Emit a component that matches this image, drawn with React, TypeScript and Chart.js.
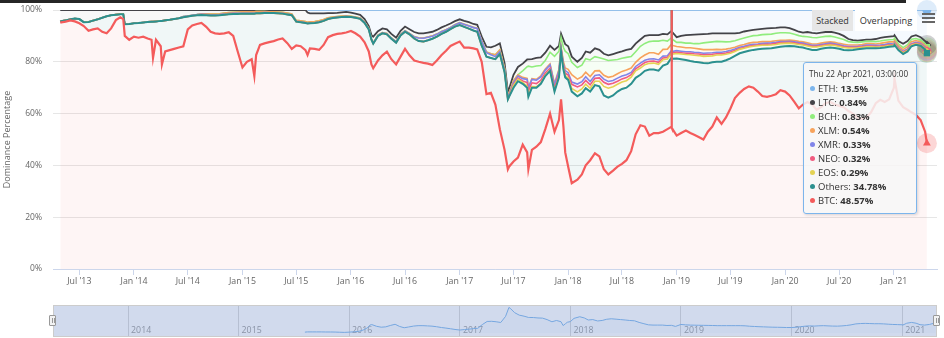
import React, { useEffect, useRef } from "react";
import { Chart, registerables } from "chart.js";

Chart.register(...registerables);

// ---------- DATA ----------
const dates = [
  "2013-04-28","2013-05-01","2013-05-16","2013-06-01","2013-06-16","2013-07-01","2013-07-16","2013-08-01","2013-08-16","2013-09-01","2013-09-16","2013-10-01","2013-10-16","2013-11-01","2013-11-16","2013-11-26","2013-12-01","2013-12-16",
  "2014-01-01","2014-01-16","2014-02-01","2014-02-16","2014-03-01","2014-03-06","2014-03-16","2014-04-01","2014-04-05","2014-04-16","2014-05-01","2014-05-16","2014-06-01","2014-06-16","2014-07-01","2014-07-16","2014-08-01","2014-08-16","2014-09-01","2014-09-16","2014-10-01","2014-10-16","2014-11-01","2014-11-16","2014-12-01","2014-12-16",
  "2015-01-01","2015-01-16","2015-02-01","2015-02-10","2015-02-16","2015-03-01","2015-03-16","2015-04-01","2015-04-16","2015-05-01","2015-05-16","2015-06-01","2015-06-16","2015-07-01","2015-07-16","2015-08-01","2015-08-08","2015-08-16","2015-09-01","2015-09-16","2015-10-01","2015-10-16","2015-11-01","2015-11-16","2015-12-01","2015-12-16",
  "2016-01-01","2016-01-16","2016-02-01","2016-02-16","2016-03-01","2016-03-10","2016-03-16","2016-04-01","2016-04-16","2016-05-01","2016-05-16","2016-06-01","2016-06-16","2016-07-01","2016-07-16","2016-08-01","2016-08-16","2016-09-01","2016-09-16","2016-10-01","2016-10-16","2016-11-01","2016-11-16","2016-12-01","2016-12-16",
  "2017-01-01","2017-01-16","2017-02-01","2017-02-16","2017-03-01","2017-03-16","2017-04-01","2017-04-16","2017-05-01","2017-05-16","2017-06-01","2017-06-12","2017-06-16","2017-07-01","2017-07-16","2017-08-01","2017-08-16","2017-08-20","2017-09-01","2017-09-16","2017-10-01","2017-10-16","2017-11-01","2017-11-16","2017-12-01","2017-12-08","2017-12-16","2017-12-22",
  "2018-01-01","2018-01-13","2018-02-01","2018-02-16","2018-03-01","2018-03-16","2018-04-01","2018-04-16","2018-05-01","2018-05-16","2018-06-01","2018-06-16","2018-07-01","2018-07-16","2018-08-01","2018-08-16","2018-09-01","2018-09-16","2018-10-01","2018-10-16","2018-11-01","2018-11-16","2018-12-01","2018-12-14","2018-12-15","2018-12-16",
  "2019-01-01","2019-01-16","2019-02-01","2019-02-16","2019-03-01","2019-03-16","2019-04-01","2019-04-16","2019-05-01","2019-05-16","2019-06-01","2019-06-16","2019-07-01","2019-07-16","2019-08-01","2019-08-16","2019-09-01","2019-09-16","2019-10-01","2019-10-16","2019-11-01","2019-11-16","2019-12-01","2019-12-16",
  "2020-01-01","2020-01-16","2020-02-01","2020-02-16","2020-03-01","2020-03-16","2020-04-01","2020-04-16","2020-05-01","2020-05-16","2020-06-01","2020-06-16","2020-07-01","2020-07-16","2020-08-01","2020-08-16","2020-09-01","2020-09-16","2020-10-01","2020-10-16","2020-11-01","2020-11-16","2020-12-01","2020-12-16",
  "2021-01-01","2021-01-03","2021-01-16","2021-02-01","2021-02-16","2021-03-01","2021-03-16","2021-04-01","2021-04-16","2021-04-22",
];

const btc = [
  95.1,95.2,95.5,96.0,95.6,94.9,93.8,92.0,92.5,92.9,91.6,91.0,92.9,96.1,97.2,96.5,90.0,88.5,
  89.7,89.3,89.7,89.0,88.5,81.5,88.5,86.0,79.0,84.0,84.5,85.0,85.5,86.0,92.5,94.0,94.6,95.0,93.5,91.6,91.0,90.8,91.0,91.4,90.0,84.0,
  77.8,80.0,81.0,74.5,82.6,86.5,87.1,87.6,88.0,88.6,89.0,87.2,85.0,86.3,86.0,84.5,82.6,85.2,85.0,84.6,86.5,89.5,90.3,90.8,91.0,91.3,
  91.9,91.0,89.7,87.5,84.0,79.0,77.5,80.5,82.5,83.9,81.0,79.0,82.0,85.0,82.5,80.5,80.0,79.6,79.3,78.8,80.5,82.6,84.3,86.1,87.0,
  87.8,85.5,85.5,85.2,84.8,80.0,67.5,68.0,63.5,54.0,46.0,38.5,39.5,41.5,43.0,48.0,45.0,38.5,46.0,47.2,49.0,54.0,60.0,53.0,57.5,65.5,55.0,45.0,
  39.5,33.1,34.5,36.5,40.0,42.0,44.7,43.5,38.5,36.5,38.0,39.5,40.6,42.0,45.5,52.0,55.5,55.0,51.5,52.5,52.5,53.0,54.0,54.9,99.9,54.5,
  51.5,52.5,53.5,52.5,51.8,51.0,50.0,53.0,55.0,58.5,56.0,58.5,62.0,66.0,68.0,69.5,70.5,70.0,68.5,66.8,66.5,66.9,67.5,69.0,
  68.5,67.0,64.5,62.0,63.5,64.5,63.5,61.5,62.5,64.0,64.5,63.5,63.0,62.5,61.0,60.0,58.5,58.0,58.5,60.5,64.0,65.3,64.5,65.5,
  70.0,73.5,65.0,62.5,61.5,60.5,59.5,57.5,53.0,48.57,
];

const others = [
  0.4,0.5,0.5,0.4,1.1,1.6,1.5,3.4,3.4,3.5,5.4,6.6,5.1,2.1,1.2,1.9,4.5,6.1,
  5.2,5.7,5.5,6.4,7.0,14.0,7.1,9.8,16.8,12.0,11.7,11.5,11.3,11.2,5.0,3.8,3.4,3.1,4.5,6.3,6.9,7.2,7.2,7.0,8.5,14.5,
  20.8,18.6,17.6,24.1,16.1,12.2,11.7,11.2,10.8,10.1,9.6,11.1,13.0,9.2,9.3,10.5,12.2,9.7,10.0,10.7,9.3,7.0,6.6,6.3,6.3,6.1,
  5.4,6.0,6.9,7.5,8.5,9.5,9.5,9.5,8.5,6.7,7.9,8.4,8.2,6.6,8.1,8.5,8.0,8.2,9.0,10.1,9.2,8.2,7.3,6.5,6.6,
  6.4,8.0,7.3,6.9,6.8,6.2,14.5,13.5,17.5,29.0,30.0,27.0,27.0,28.5,29.5,23.5,25.0,28.0,24.0,22.8,22.5,20.5,16.5,15.5,16.5,18.5,22.0,29.0,
  33.5,35.4,32.2,31.3,29.8,26.5,26.3,27.0,28.5,29.7,29.0,29.0,28.9,28.0,26.0,21.8,19.5,21.5,25.5,24.5,24.1,25.5,25.2,26.6,26.6,26.7,
  29.8,28.5,27.2,27.8,28.2,28.8,29.5,26.4,24.8,21.5,24.0,22.1,19.3,16.3,15.3,14.3,13.8,14.6,16.3,18.2,18.6,18.3,18.0,16.8,
  17.5,19.1,21.5,23.7,22.0,20.5,21.1,23.1,22.5,21.3,21.0,21.8,22.0,22.1,23.5,24.6,26.3,27.0,26.7,24.7,21.2,20.0,21.0,20.3,
  16.0,13.0,19.5,20.5,22.5,25.5,27.1,28.7,31.8,34.78,
];

const eos = [
  0,0,0,0,0,0,0,0,0,0,0,0,0,0,0,0,0,0,
  0,0,0,0,0,0,0,0,0,0,0,0,0,0,0,0,0,0,0,0,0,0,0,0,0,0,
  0,0,0,0,0,0,0,0,0,0,0,0,0,0,0,0,0,0,0,0,0,0,0,0,0,0,
  0,0,0,0,0,0,0,0,0,0,0,0,0,0,0,0,0,0,0,0,0,0,0,0,0,
  0,0,0,0,0,0,0,0,0,0,0,0,0,0.9,0.8,0.6,0.5,0.5,0.4,0.3,0.3,0.3,0.3,0.3,0.5,0.3,0.5,0.7,
  0.8,1.2,1.7,1.7,1.6,1.3,1.5,2.0,3.5,3.6,3.4,2.8,2.7,2.7,2.6,2.7,2.6,2.4,2.4,2.5,2.4,2.3,1.9,1.7,1.7,1.7,
  1.9,2.0,2.1,2.4,2.5,2.6,2.6,2.8,2.5,2.6,2.6,2.3,2.0,1.7,1.5,1.4,1.4,1.4,1.4,1.4,1.3,1.3,1.2,1.2,
  1.1,1.1,1.0,1.0,1.0,1.1,1.1,1.1,1.0,1.0,1.0,1.0,0.9,0.9,0.8,0.7,0.6,0.6,0.6,0.6,0.5,0.5,0.5,0.5,
  0.4,0.4,0.4,0.4,0.4,0.4,0.3,0.3,0.3,0.29,
];

const neo = [
  0,0,0,0,0,0,0,0,0,0,0,0,0,0,0,0,0,0,
  0,0,0,0,0,0,0,0,0,0,0,0,0,0,0,0,0,0,0,0,0,0,0,0,0,0,
  0,0,0,0,0,0,0,0,0,0,0,0,0,0,0,0,0,0,0,0,0,0,0,0,0,0,
  0,0,0,0,0,0,0,0,0,0,0,0,0,0,0,0,0,0,0,0,0,0,0,0,0,
  0,0,0,0,0,0,0,0,0,0,0,0,0,0.3,0.4,0.5,1.5,1.6,1.5,1.3,1.1,0.9,0.8,1.0,0.8,0.5,0.8,0.9,
  1.1,1.6,1.9,1.6,1.4,1.3,1.1,1.3,1.6,1.5,1.3,1.2,1.2,1.2,0.9,0.8,0.9,0.8,0.8,0.8,0.8,0.7,0.6,0.5,0.5,0.5,
  0.5,0.5,0.5,0.6,0.6,0.6,0.6,0.6,0.6,0.5,0.5,0.5,0.5,0.4,0.3,0.3,0.3,0.3,0.3,0.3,0.4,0.4,0.4,0.4,
  0.3,0.3,0.3,0.3,0.3,0.3,0.3,0.3,0.3,0.3,0.3,0.3,0.3,0.3,0.3,0.3,0.3,0.3,0.3,0.3,0.3,0.3,0.3,0.3,
  0.2,0.2,0.2,0.3,0.3,0.3,0.3,0.3,0.3,0.32,
];

const xmr = [
  0,0,0,0,0,0,0,0,0,0,0,0,0,0,0,0,0,0,
  0,0,0,0,0,0,0,0,0,0,0,0,0,0.3,0.2,0.2,0.2,0.2,0.2,0.2,0.2,0.2,0.2,0.2,0.2,0.2,
  0.2,0.2,0.2,0.2,0.2,0.2,0.2,0.1,0.1,0.1,0.1,0.1,0.1,0.1,0.1,0.1,0.1,0.1,0.1,0.1,0.1,0.1,0.1,0.1,0.1,0.1,
  0.1,0.1,0.1,0.2,0.2,0.2,0.2,0.2,0.2,0.2,0.2,0.3,0.3,0.3,0.3,0.6,1.2,1.3,1.2,1.0,0.9,0.8,0.7,0.6,0.6,
  0.8,0.9,1.0,1.1,1.3,1.7,1.5,1.2,1.0,0.9,0.8,0.7,0.7,0.8,0.8,0.9,1.2,1.3,1.3,1.3,1.3,1.1,1.2,1.3,1.3,0.7,0.9,1.0,
  0.9,0.9,1.1,1.2,1.4,1.3,1.1,1.2,1.2,1.1,1.1,1.2,1.1,1.1,0.9,0.9,1.0,0.9,0.9,0.9,0.9,0.7,0.6,0.6,0.6,0.6,
  0.6,0.6,0.6,0.6,0.6,0.6,0.6,0.6,0.6,0.6,0.6,0.6,0.6,0.5,0.5,0.5,0.5,0.5,0.4,0.4,0.4,0.4,0.4,0.4,
  0.4,0.4,0.4,0.4,0.4,0.4,0.4,0.4,0.4,0.4,0.4,0.4,0.4,0.4,0.3,0.3,0.3,0.3,0.4,0.4,0.4,0.4,0.4,0.4,
  0.3,0.3,0.3,0.3,0.3,0.3,0.3,0.3,0.3,0.33,
];

const xlm = [
  0,0,0,0,0,0,0,0,0,0,0,0,0,0,0,0,0,0,
  0,0,0,0,0,0,0,0,0,0,0,0,0,0,0,0,0,0.2,0.3,0.3,0.3,0.3,0.4,0.4,0.4,0.5,
  0.5,0.5,0.5,0.5,0.5,0.5,0.4,0.4,0.4,0.4,0.4,0.4,0.4,0.4,0.4,0.4,0.4,0.4,0.4,0.4,0.4,0.4,0.3,0.3,0.3,0.3,
  0.2,0.2,0.2,0.2,0.2,0.1,0.1,0.1,0.1,0.1,0.1,0.1,0.1,0.1,0.1,0.1,0.1,0.1,0.1,0.1,0.1,0.1,0.1,0.1,0.1,
  0.1,0.1,0.1,0.1,0.1,0.2,0.3,0.4,0.7,0.7,0.7,0.6,0.6,0.6,0.5,0.5,0.4,0.4,0.3,0.3,0.4,0.4,0.4,0.5,0.5,0.4,0.8,1.0,
  1.3,2.8,1.9,1.9,1.8,1.9,1.8,1.6,1.5,1.6,1.6,1.7,1.8,1.8,1.7,1.6,2.0,2.0,2.4,2.3,2.2,2.6,2.6,2.4,2.4,2.4,
  1.6,1.6,1.5,1.5,1.5,1.4,1.4,1.3,1.2,1.1,1.0,0.9,0.8,0.7,0.7,0.7,0.7,0.7,0.7,0.7,0.6,0.6,0.6,0.5,
  0.5,0.5,0.5,0.5,0.5,0.5,0.5,0.5,0.5,0.5,0.5,0.5,0.5,0.6,0.6,0.6,0.5,0.5,0.5,0.5,0.5,0.6,0.7,0.7,
  0.8,0.8,0.7,0.7,0.8,0.8,0.7,0.6,0.6,0.54,
];

const bch = [
  0,0,0,0,0,0,0,0,0,0,0,0,0,0,0,0,0,0,
  0,0,0,0,0,0,0,0,0,0,0,0,0,0,0,0,0,0,0,0,0,0,0,0,0,0,
  0,0,0,0,0,0,0,0,0,0,0,0,0,0,0,0,0,0,0,0,0,0,0,0,0,0,
  0,0,0,0,0,0,0,0,0,0,0,0,0,0,0,0,0,0,0,0,0,0,0,0,0,
  0,0,0,0,0,0,0,0,0,0,0,0,0,0,0,2.5,4.5,8.0,4.5,5.2,4.0,3.3,4.5,10.5,7.0,3.5,5.5,6.5,
  6.0,4.8,4.5,4.5,5.2,6.4,5.5,5.0,6.3,6.5,6.3,5.5,5.1,4.9,4.4,4.1,4.5,4.5,4.3,4.5,5.1,3.5,3.1,2.5,2.5,2.5,
  1.6,1.8,1.8,1.8,1.8,2.0,2.6,2.8,3.0,3.1,3.1,2.8,2.6,2.5,2.4,2.5,2.5,2.6,2.6,2.7,2.8,2.8,2.9,2.9,
  2.9,2.7,2.4,2.2,2.1,2.4,2.5,2.4,2.4,2.3,2.2,2.1,2.0,1.8,1.3,1.1,1.0,1.0,0.9,0.9,0.9,0.9,0.9,0.8,
  0.9,0.9,0.8,0.8,0.8,0.9,0.8,0.7,0.8,0.83,
];

const ltc = [
  4.5,4.3,4.0,3.6,3.3,3.5,4.7,4.6,4.1,3.6,3.0,2.4,2.0,1.8,1.6,1.6,5.5,5.4,
  5.1,5.0,4.8,4.6,4.5,4.5,4.4,4.2,4.2,4.0,3.8,3.5,3.2,2.5,2.3,2.0,1.8,1.5,1.5,1.6,1.6,1.5,1.2,1.0,0.9,0.8,
  0.7,0.7,0.7,0.7,0.6,0.6,0.6,0.7,0.7,0.8,0.9,1.2,1.5,4.0,4.2,4.5,3.7,3.3,3.2,2.9,2.4,1.8,1.5,1.4,1.4,1.5,
  1.4,1.3,1.2,1.1,0.9,1.5,2.4,1.5,1.6,1.6,1.6,1.5,1.4,1.6,1.6,1.8,1.7,1.8,1.7,1.6,1.6,1.6,1.6,1.5,1.4,
  1.3,1.3,1.4,1.3,1.3,1.6,2.0,2.5,3.5,2.5,2.0,1.7,1.7,2.4,3.0,2.8,2.8,2.6,3.0,3.1,3.1,3.0,2.5,2.5,2.0,1.5,3.0,2.7,
  2.9,2.2,2.2,2.8,2.8,2.8,3.2,3.0,2.0,2.0,2.3,2.6,2.6,2.9,3.0,3.1,2.6,2.9,2.5,2.3,2.3,2.5,2.6,2.7,2.7,2.8,
  2.0,2.5,3.1,3.2,3.5,3.6,3.4,3.3,3.3,3.1,3.2,3.3,3.2,2.9,2.5,2.5,2.3,2.2,2.3,2.2,2.3,2.3,2.1,2.1,
  2.1,1.9,1.7,1.5,1.5,1.8,1.8,1.7,1.7,1.7,1.7,1.7,1.7,1.4,1.0,0.8,0.7,0.7,0.7,0.7,1.0,1.2,1.2,1.2,
  1.3,1.2,1.1,1.5,1.4,1.1,1.3,1.1,0.9,0.84,
];

const eth = [
  null,null,null,null,null,null,null,null,null,null,null,null,null,null,null,null,null,null,
  null,null,null,null,null,null,null,null,null,null,null,null,null,null,null,null,null,null,null,null,null,null,null,null,null,null,
  null,null,null,null,null,null,null,null,null,null,null,null,null,null,null,null,1.0,1.3,1.3,1.3,1.3,1.2,1.2,1.1,0.9,0.7,
  1.0,1.4,1.9,3.5,6.2,9.7,10.3,8.2,7.1,7.5,9.2,10.7,8.0,6.4,7.4,8.5,9.0,9.0,8.7,8.4,7.7,6.7,6.0,5.2,4.3,
  3.6,4.2,4.7,5.4,5.7,10.3,14.2,14.4,13.8,12.9,20.5,31.5,30.5,25.0,22.0,20.7,19.1,19.1,19.0,18.5,18.3,16.5,13.8,15.4,13.9,9.1,11.5,13.2,
  14.0,18.0,20.0,18.5,16.0,16.5,14.8,15.4,16.9,17.5,17.0,16.5,16.0,15.4,15.0,13.0,11.4,10.0,9.7,9.7,9.7,9.2,9.4,8.1,8.1,8.3,
  10.5,10.0,9.7,9.6,9.5,9.4,9.3,9.2,9.0,9.0,9.0,9.0,9.0,9.0,8.8,8.3,8.0,7.7,7.5,7.3,7.1,7.0,6.9,6.7,
  6.7,7.0,7.7,8.4,8.7,8.5,8.8,9.0,8.7,8.5,8.4,8.7,9.2,10.0,11.2,11.6,11.8,11.6,11.4,11.4,11.2,10.8,10.5,10.3,
  10.1,9.7,12.0,13.0,12.0,10.2,9.7,10.5,12.0,13.5,
];

const tickDates = ["2013-07-01","2014-01-01","2014-07-01","2015-01-01","2015-07-01","2016-01-01","2016-07-01","2017-01-01","2017-07-01","2018-01-01","2018-07-01","2019-01-01","2019-07-01","2020-01-01","2020-07-01","2021-01-01"];
const tickLabels = ["Jul '13","Jan '14","Jul '14","Jan '15","Jul '15","Jan '16","Jul '16","Jan '17","Jul '17","Jan '18","Jul '18","Jan '19","Jul '19","Jan '20","Jul '20","Jan '21"];
const navYearDates = ["2014-01-01","2015-01-01","2016-01-01","2017-01-01","2018-01-01","2019-01-01","2020-01-01","2021-01-01"];
const navYearLabels = ["2014","2015","2016","2017","2018","2019","2020","2021"];
const yTicks = [0, 20, 40, 60, 80, 100];
const yTitle = "Dominance Percentage";
const tooltipTitle = "Thu 22 Apr 2021, 03:00:00";
const buttonLabels = ["Stacked", "Overlapping"];

// ---------- STYLE ----------
const FONT = '"Open Sans", "Noto Sans", sans-serif';
const SERIES = [
  { name: "BTC", data: btc, color: "#f45b5b", rgb: "244,91,91", style: "triangle", rot: 0, w: 2.2, a: 0.06 },
  { name: "Others", data: others, color: "#2b908f", rgb: "43,144,143", style: "rect", rot: 0, w: 2, a: 0.07 },
  { name: "EOS", data: eos, color: "#e4d354", rgb: "228,211,84", style: "rectRot", rot: 0, w: 1.6, a: 0.08 },
  { name: "NEO", data: neo, color: "#f15c80", rgb: "241,92,128", style: "circle", rot: 0, w: 1.6, a: 0.08 },
  { name: "XMR", data: xmr, color: "#8085e9", rgb: "128,133,233", style: "triangle", rot: 180, w: 1.6, a: 0.08 },
  { name: "XLM", data: xlm, color: "#f7a35c", rgb: "247,163,92", style: "triangle", rot: 0, w: 1.6, a: 0.08 },
  { name: "BCH", data: bch, color: "#90ed7d", rgb: "144,237,125", style: "rect", rot: 0, w: 1.6, a: 0.08 },
  { name: "LTC", data: ltc, color: "#434348", rgb: "67,67,72", style: "rectRot", rot: 0, w: 1.8, a: 0.04 },
  { name: "ETH", data: eth, color: "#7cb5ec", rgb: "124,181,236", style: "circle", rot: 0, w: 1.6, a: 0.08 },
];

const toDay = (s: string) =>
  (Date.UTC(+s.slice(0, 4), +s.slice(5, 7) - 1, +s.slice(8, 10)) - Date.UTC(2014, 0, 1)) / 86400000;

export default function App() {
  const mainRef = useRef<HTMLCanvasElement>(null);
  const navRef = useRef<HTMLCanvasElement>(null);

  useEffect(() => {
    const days = dates.map(toDay);
    const last = dates.length - 1;
    const tickDays = tickDates.map(toDay);
    const navDays = navYearDates.map(toDay);

    const halo = {
      id: "halo",
      beforeDatasetsDraw(chart: any) {
        const ctx = chart.ctx;
        ctx.save();
        chart.data.datasets.forEach((_: any, i: number) => {
          const el = chart.getDatasetMeta(i).data[last];
          if (!el) return;
          ctx.beginPath();
          ctx.arc(el.x, el.y, 10, 0, Math.PI * 2);
          ctx.fillStyle = `rgba(${SERIES[i].rgb},0.25)`;
          ctx.fill();
        });
        ctx.restore();
      },
    };

    const main = new Chart(mainRef.current as HTMLCanvasElement, {
      type: "line",
      data: {
        labels: days,
        datasets: SERIES.map((s, i) => ({
          label: s.name,
          data: s.data as any,
          borderColor: s.color,
          borderWidth: s.w,
          backgroundColor: `rgba(${s.rgb},${s.a})`,
          fill: i === 0 ? "origin" : "-1",
          tension: 0,
          spanGaps: false,
          pointStyle: s.style as any,
          rotation: s.rot,
          pointRadius: (c: any) => (c.dataIndex === last ? 4.5 : 0),
          pointBackgroundColor: s.color,
          pointBorderWidth: 0,
          pointHoverRadius: 0,
        })),
      },
      options: {
        animation: false,
        responsive: false,
        maintainAspectRatio: false,
        events: [],
        layout: { padding: { top: 10, right: 7, left: 0, bottom: 0 } },
        plugins: { legend: { display: false }, tooltip: { enabled: false } },
        scales: {
          x: {
            type: "linear",
            min: -272.5,
            max: 2702,
            afterBuildTicks: (s: any) => {
              s.ticks = tickDays.map((v) => ({ value: v }));
            },
            afterFit: (s: any) => {
              s.height = 31;
              s.paddingLeft = 0;
              s.paddingRight = 0;
            },
            ticks: {
              callback: (_v: any, i: number) => tickLabels[i],
              autoSkip: false,
              maxRotation: 0,
              minRotation: 0,
              color: "#666",
              padding: 1,
              font: { family: FONT, size: 8.8 },
            },
            grid: { drawOnChartArea: false, drawTicks: true, tickLength: 6, color: "#ccd6eb" },
            border: { color: "#ccd6eb", width: 1 },
          },
          y: {
            stacked: true,
            min: 0,
            max: 100,
            afterBuildTicks: (s: any) => {
              s.ticks = yTicks.map((v) => ({ value: v }));
            },
            afterFit: (s: any) => {
              s.width = 53;
              s.paddingTop = 0;
              s.paddingBottom = 0;
            },
            ticks: {
              callback: (v: any) => v + "%",
              color: "#666",
              padding: 11,
              font: { family: FONT, size: 8.5 },
            },
            grid: { color: "#e6e6e6", drawTicks: false },
            border: { display: false },
            title: {
              display: true,
              text: yTitle,
              color: "#666",
              font: { family: FONT, size: 9 },
              padding: { top: 2, bottom: 0 },
            },
          },
        },
      },
      plugins: [halo],
    } as any);

    const navDecor = {
      id: "navDecor",
      beforeDatasetsDraw(chart: any) {
        const ctx = chart.ctx;
        const xs = chart.scales.x;
        ctx.save();
        ctx.fillStyle = "#999";
        ctx.font = `8.8px ${FONT}`;
        ctx.textBaseline = "alphabetic";
        navDays.forEach((d, i) => {
          ctx.fillText(navYearLabels[i], xs.getPixelForValue(d) + 3, chart.chartArea.bottom - 4);
        });
        ctx.restore();
      },
      afterDatasetsDraw(chart: any) {
        const ctx = chart.ctx;
        const a = chart.chartArea;
        ctx.save();
        ctx.fillStyle = "rgba(102,133,194,0.3)";
        ctx.fillRect(a.left, a.top, a.right - a.left, a.bottom - a.top);
        ctx.strokeStyle = "#cccccc";
        ctx.lineWidth = 1;
        ctx.strokeRect(a.left + 0.5, a.top + 0.5, a.right - a.left - 1, a.bottom - a.top - 1);
        ctx.restore();
      },
    };

    const nav = new Chart(navRef.current as HTMLCanvasElement, {
      type: "line",
      data: {
        labels: days,
        datasets: [
          {
            data: eth as any,
            borderColor: "#7cb5ec",
            borderWidth: 1,
            backgroundColor: "rgba(124,181,236,0.05)",
            fill: "origin",
            pointRadius: 0,
            tension: 0,
          },
        ],
      },
      options: {
        animation: false,
        responsive: false,
        maintainAspectRatio: false,
        events: [],
        layout: { padding: 0 },
        plugins: { legend: { display: false }, tooltip: { enabled: false } },
        scales: {
          x: {
            type: "linear",
            min: -248,
            max: 2672,
            afterBuildTicks: (s: any) => {
              s.ticks = navDays.map((v) => ({ value: v }));
            },
            afterFit: (s: any) => {
              s.height = 0;
              s.paddingLeft = 0;
              s.paddingRight = 0;
            },
            ticks: { display: false },
            grid: { color: "#d8d8d8", drawTicks: false, drawOnChartArea: true },
            border: { display: false },
          },
          y: { display: false, min: -5, max: 34.5 },
        },
      },
      plugins: [navDecor],
    } as any);

    return () => {
      main.destroy();
      nav.destroy();
    };
  }, []);

  const last = dates.length - 1;
  const tipRows = [...SERIES].reverse();

  return (
    <div style={{ position: "fixed", left: 0, top: 0, width: 944, height: 338, background: "#fff", overflow: "hidden", fontFamily: FONT }}>
      <div style={{ position: "absolute", left: 0, top: 0, width: 906, height: 3, background: "#262626" }} />
      <canvas ref={mainRef} width={944} height={300} style={{ position: "absolute", left: 0, top: 0, display: "block" }} />
      <canvas ref={navRef} width={884} height={32} style={{ position: "absolute", left: 53, top: 305, display: "block" }} />
      {/* navigator handles */}
      {[53, 937].map((x) => (
        <div key={x} style={{ position: "absolute", left: x - 4, top: 315, width: 7, height: 11, boxSizing: "border-box", background: "#f2f2f2", border: "1px solid #999", borderRadius: 1 }}>
          <div style={{ position: "absolute", left: 1.5, top: 2, width: 1, height: 5, background: "#999" }} />
          <div style={{ position: "absolute", left: 3.5, top: 2, width: 1, height: 5, background: "#999" }} />
        </div>
      ))}
      {/* buttons */}
      <div style={{ position: "absolute", left: 812, top: 10, width: 41, height: 21, background: "#e6e6e6", color: "#333", fontSize: 9, lineHeight: "21px", textAlign: "center" }}>{buttonLabels[0]}</div>
      <div style={{ position: "absolute", left: 855, top: 10, width: 62, height: 21, background: "#fff", color: "#333", fontSize: 9.2, lineHeight: "21px", textAlign: "center" }}>{buttonLabels[1]}</div>
      {[13.3, 17.3, 21.3].map((y) => (
        <div key={y} style={{ position: "absolute", left: 922, top: y, width: 13, height: 2, background: "#666" }} />
      ))}
      {/* tooltip */}
      <div style={{ position: "absolute", left: 803, top: 62, width: 114, height: 152, boxSizing: "border-box", border: "1px solid #7cb5ec", borderRadius: 3, background: "rgba(247,247,247,0.85)", boxShadow: "1px 1px 3px rgba(0,0,0,0.15)", color: "#333" }}>
        <div style={{ position: "absolute", left: 5, top: 5, fontSize: 8.2, lineHeight: "12px", whiteSpace: "nowrap" }}>{tooltipTitle}</div>
        {tipRows.map((s, i) => (
          <div key={s.name} style={{ position: "absolute", left: 6, top: 19.3 + 14 * i, height: 14, fontSize: 9.5, lineHeight: "14px", whiteSpace: "nowrap" }}>
            <span style={{ display: "inline-block", width: 5, height: 5, borderRadius: "50%", background: s.color, marginRight: 3, verticalAlign: "middle", position: "relative", top: -1 }} />
            {s.name}: <b>{(s.data[last] as number) + "%"}</b>
          </div>
        ))}
      </div>
    </div>
  );
}
